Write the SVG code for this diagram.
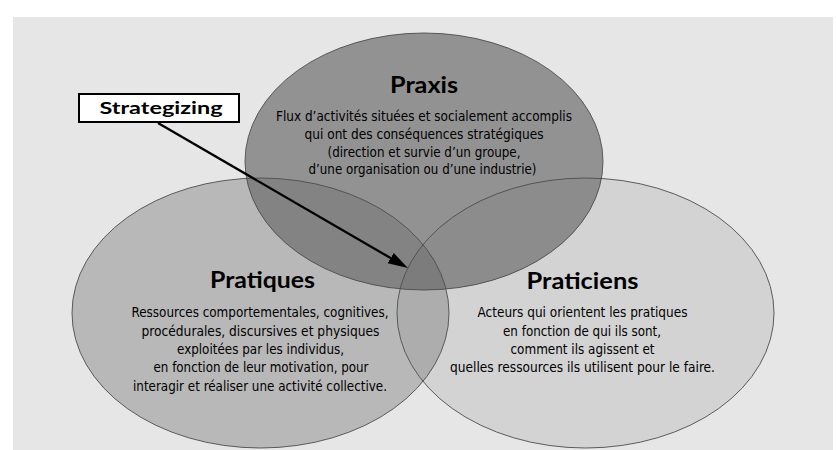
<svg xmlns="http://www.w3.org/2000/svg" width="836" height="450" viewBox="0 0 836 450">
  <defs>
    <style>
      .title { font-family: "Lato", "Open Sans", "Liberation Sans", sans-serif; font-weight: 700; font-size: 23px; fill: #000; text-anchor: middle; }
      .label { font-family: "Lato", "Open Sans", "Liberation Sans", sans-serif; font-weight: 700; font-size: 17px; fill: #000; text-anchor: middle; }
      .body { font-family: "Liberation Sans Narrow", "DejaVu Sans Condensed", "Liberation Sans", sans-serif; font-stretch: condensed; font-size: 14.5px; fill: #000; text-anchor: middle; }
      .outline { fill: none; stroke: #4d4d4d; stroke-width: 0.9; }
      .connector { stroke: #000; stroke-width: 2.3; fill: none; }
    </style>
    <ellipse id="e-praxis" cx="424" cy="161.5" rx="179" ry="128.5"/>
    <ellipse id="e-pratiques" cx="260.5" cy="313" rx="188.5" ry="135"/>
    <ellipse id="e-praticiens" cx="585.5" cy="313" rx="188.5" ry="135"/>
    <clipPath id="clip-pratiques"><use href="#e-pratiques"/></clipPath>
    <clipPath id="clip-praticiens"><use href="#e-praticiens"/></clipPath>
    <marker id="arrowhead" markerUnits="userSpaceOnUse" markerWidth="22" markerHeight="13" refX="10" refY="6" orient="auto">
      <path d="M0,0 L20,6 L0,12 Z" fill="#000"/>
    </marker>
  </defs>

  <!-- page and panel -->
  <rect x="0" y="0" width="836" height="450" fill="#fff"/>
  <rect x="13" y="17" width="820" height="433" fill="#e6e6e6"/>

  <!-- Pratiques -->
  <g id="node-pratiques">
    <use href="#e-pratiques" fill="#b8b8b8"/>
    <text class="title" x="262.5" y="288" textLength="105" lengthAdjust="spacingAndGlyphs">Pratiques</text>
    <text class="body" x="260" y="317.3" textLength="257" lengthAdjust="spacingAndGlyphs">Ressources comportementales, cognitives,</text>
    <text class="body" x="260.5" y="335.6" textLength="238" lengthAdjust="spacingAndGlyphs">procédurales, discursives et physiques</text>
    <text class="body" x="260.5" y="354" textLength="167" lengthAdjust="spacingAndGlyphs">exploitées par les individus,</text>
    <text class="body" x="261" y="372.3" textLength="215" lengthAdjust="spacingAndGlyphs">en fonction de leur motivation, pour</text>
    <text class="body" x="260" y="390.6" textLength="254" lengthAdjust="spacingAndGlyphs">interagir et réaliser une activité collective.</text>
  </g>

  <!-- Praticiens -->
  <g id="node-praticiens">
    <use href="#e-praticiens" fill="#d3d3d3"/>
    <text class="title" x="582.5" y="288.5" textLength="112" lengthAdjust="spacingAndGlyphs">Praticiens</text>
    <text class="body" x="582.5" y="317.3" textLength="210" lengthAdjust="spacingAndGlyphs">Acteurs qui orientent les pratiques</text>
    <text class="body" x="582" y="335.6" textLength="158" lengthAdjust="spacingAndGlyphs">en fonction de qui ils sont,</text>
    <text class="body" x="582.5" y="354" textLength="144" lengthAdjust="spacingAndGlyphs">comment ils agissent et</text>
    <text class="body" x="582.5" y="372.3" textLength="265" lengthAdjust="spacingAndGlyphs">quelles ressources ils utilisent pour le faire.</text>
  </g>

  <!-- lower lens shared by Pratiques and Praticiens -->
  <g id="overlap-lower" clip-path="url(#clip-pratiques)">
    <use href="#e-praticiens" fill="#adadad"/>
  </g>

  <!-- Praxis -->
  <g id="node-praxis">
    <use href="#e-praxis" fill="#929292"/>
    <g clip-path="url(#clip-pratiques)">
      <use href="#e-praxis" fill="#838383"/>
    </g>
    <g clip-path="url(#clip-praticiens)">
      <use href="#e-praxis" fill="#8c8c8c"/>
      <g clip-path="url(#clip-pratiques)">
        <use href="#e-praxis" fill="#7c7c7c"/>
      </g>
    </g>
    <text class="title" x="424" y="93" textLength="68" lengthAdjust="spacingAndGlyphs">Praxis</text>
    <text class="body" x="424" y="121" textLength="296" lengthAdjust="spacingAndGlyphs">Flux d’activités situées et socialement accomplis</text>
    <text class="body" x="424" y="139" textLength="239" lengthAdjust="spacingAndGlyphs">qui ont des conséquences stratégiques</text>
    <text class="body" x="424" y="156.5" textLength="193" lengthAdjust="spacingAndGlyphs">(direction et survie d’un groupe,</text>
    <text class="body" x="422.5" y="174" textLength="228" lengthAdjust="spacingAndGlyphs">d’une organisation ou d’une industrie)</text>
  </g>

  <!-- circle outlines -->
  <g id="outlines" class="outline">
    <use href="#e-pratiques"/>
    <use href="#e-praticiens"/>
    <use href="#e-praxis"/>
  </g>

  <!-- Strategizing callout -->
  <g id="node-strategizing">
    <rect x="79" y="94" width="160" height="28" fill="#fff" stroke="#000" stroke-width="2"/>
    <text class="label" x="161" y="114" textLength="123" lengthAdjust="spacingAndGlyphs">Strategizing</text>
  </g>

  <g id="connectors">
    <line class="connector" x1="158" y1="123" x2="399.3" y2="263.1" marker-end="url(#arrowhead)"/>
  </g>
</svg>
